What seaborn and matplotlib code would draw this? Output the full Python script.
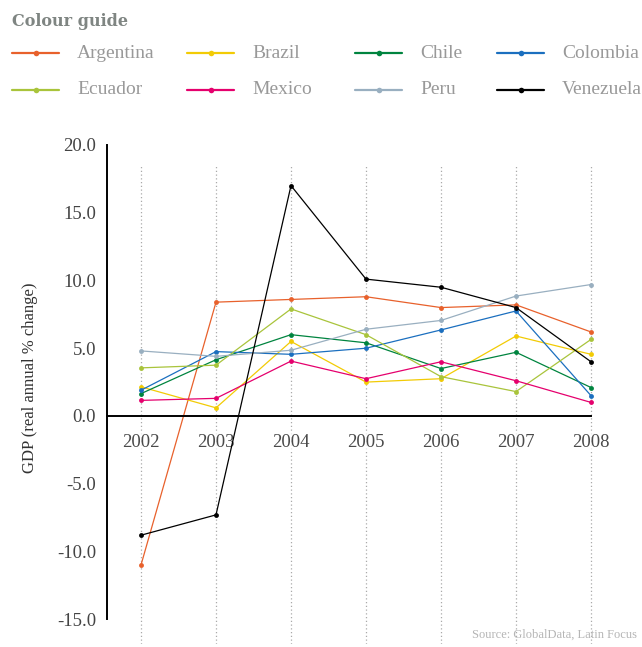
import pandas as pd
import matplotlib.pyplot as plt
import seaborn as sns
from matplotlib.lines import Line2D

sns.set_style('white')
plt.rcParams['font.family'] = ['Liberation Serif', 'DejaVu Serif']
plt.rcParams['axes.unicode_minus'] = False

# 資料
years = [2002, 2003, 2004, 2005, 2006, 2007, 2008]
countries = ['Argentina', 'Brazil', 'Chile', 'Colombia',
             'Ecuador', 'Mexico', 'Peru', 'Venezuela']
argentina = [-11.0, 8.4, 8.6, 8.8, 8.0, 8.2, 6.2]
brazil = [2.15, 0.6, 5.5, 2.5, 2.75, 5.9, 4.55]
chile = [1.65, 4.15, 6.0, 5.4, 3.5, 4.7, 2.1]
colombia = [1.9, 4.75, 4.55, 5.0, 6.35, 7.75, 1.5]
ecuador = [3.55, 3.75, 7.9, 6.0, 2.9, 1.8, 5.65]
mexico = [1.15, 1.3, 4.05, 2.75, 4.0, 2.6, 1.0]
peru = [4.8, 4.4, 4.85, 6.4, 7.05, 8.85, 9.7]
venezuela = [-8.8, -7.3, 17.0, 10.1, 9.5, 8.0, 4.0]
year_labels = ['2002', '2003', '2004', '2005', '2006', '2007', '2008']
y_ticks = [-15, -10, -5, 0, 5, 10, 15, 20]

colors = ['#e8612c', '#f2cb05', '#00843f', '#1b6fbf',
          '#a9c43b', '#e5006d', '#99afc0', '#000000']

series = [argentina, brazil, chile, colombia, ecuador, mexico, peru, venezuela]
df = pd.DataFrame({
    'year': years * len(countries),
    'gdp': [v for s in series for v in s],
    'country': [c for c in countries for _ in years],
})
palette = dict(zip(countries, colors))

fig = plt.figure(figsize=(6.42, 6.47), dpi=100)
ax = fig.add_axes([107 / 642, 1 - 643.6 / 647, 498 / 642, 505.4 / 647])

# 年份虛線
ax.vlines(years, -16.8, 18.5, colors='#aaaaaa', linestyles=(0, (1, 2)), linewidth=0.9, zorder=0)

sns.lineplot(data=df, x='year', y='gdp', hue='country', palette=palette,
             marker='o', markersize=3.5, markeredgewidth=0, linewidth=0.9,
             legend=False, sort=False, ax=ax)

ax.set_xlim(2002 - 34 / 75, 2008 + 14 / 75)
ax.set_ylim(-16.8, 20.5)

for s in ['top', 'right']:
    ax.spines[s].set_visible(False)
ax.spines['left'].set_bounds(-15, 20)
ax.spines['left'].set_linewidth(1.4)
ax.spines['left'].set_color('black')
ax.spines['bottom'].set_position(('data', 0))
ax.spines['bottom'].set_bounds(2002 - 34 / 75, 2008)
ax.spines['bottom'].set_linewidth(1.4)
ax.spines['bottom'].set_color('black')

ax.set_xticks(years)
ax.set_xticklabels(year_labels)
ax.set_yticks(y_ticks)
ax.set_yticklabels([f'{v:.1f}' for v in y_ticks])
ax.tick_params(axis='x', direction='out', length=5, width=1.2, color='black',
               pad=8, labelsize=13.5, labelcolor='#4a4a4a')
ax.tick_params(axis='y', direction='out', length=5, width=1.2, color='#999999',
               pad=3, labelsize=13.5, labelcolor='#444444')
for lab in ax.get_xticklabels():
    lab.set_bbox(dict(facecolor='white', edgecolor='none', alpha=0.75, pad=1))
ax.set_xlabel('')
ax.set_ylabel('')
ax.grid(False)

fig.text(30 / 642, 1 - 378 / 647, 'GDP (real annual % change)', rotation=90,
         ha='center', va='center', fontsize=12, color='#333333')

# 圖例
fig.text(12 / 642, 1 - 22 / 647, 'Colour guide', family='DejaVu Serif',
         fontweight='bold', fontsize=11.5, color='#7f8582', ha='left', va='center')
col_x = [12, 187, 355, 497]
row_y = [53, 90]
for i, (name, col) in enumerate(zip(countries, colors)):
    x0 = col_x[i % 4]
    y0 = 1 - row_y[i // 4] / 647
    fig.add_artist(Line2D([x0 / 642, (x0 + 47) / 642], [y0, y0], color=col, linewidth=1.6))
    fig.add_artist(Line2D([(x0 + 23.5) / 642], [y0], color=col, marker='o',
                          markersize=4, markeredgewidth=0))
    fig.text((x0 + 65) / 642, y0, name, fontsize=14, color='#999999',
             ha='left', va='center')

fig.text(637 / 642, 1 - 635 / 647, 'Source: GlobalData, Latin Focus',
         fontsize=9, color='#b5b5b5', ha='right', va='center')

fig.savefig('out.png', dpi=100)
